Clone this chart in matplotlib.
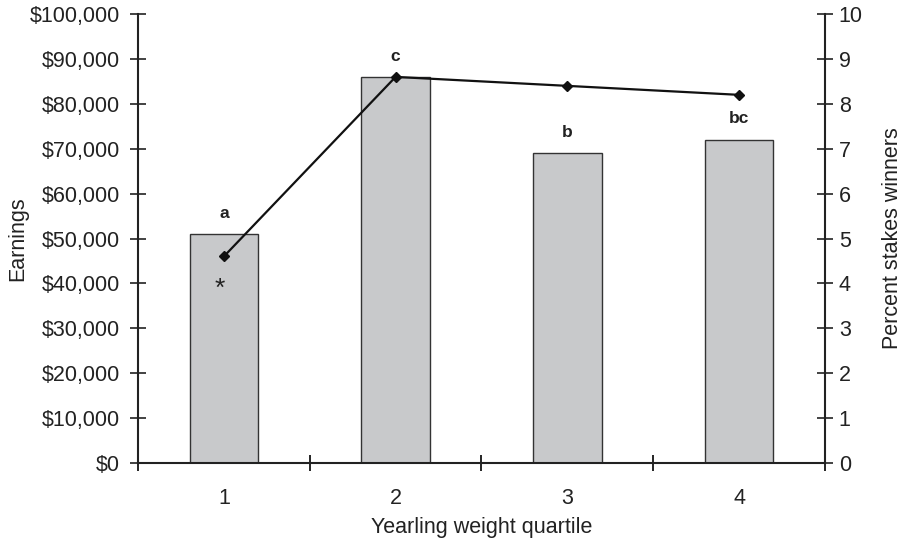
import matplotlib
matplotlib.use("Agg")
import matplotlib.pyplot as plt
from matplotlib.ticker import FuncFormatter

plt.rcParams['font.family'] = ['Liberation Sans', 'DejaVu Sans']

quartiles = ["1", "2", "3", "4"]
earnings = [51000, 86000, 69000, 72000]
pct_stakes = [4.6, 8.6, 8.4, 8.2]
sig_letters = ["a", "c", "b", "bc"]

FS = 15.5
fig = plt.figure(figsize=(9.03, 5.4), dpi=100)
ax = fig.add_axes([0.1528, 0.1426, 0.9136 - 0.1528, 0.974 - 0.1426])
x = list(range(len(quartiles)))
ax.bar(x, earnings, width=0.40, color="#c8c9cb", edgecolor="#333333", linewidth=1.0, zorder=2)
ax.set_xlim(-0.5, 3.5)
ax.set_ylim(0, 100000)
ax.set_yticks(range(0, 100001, 10000))
ax.yaxis.set_major_formatter(FuncFormatter(lambda v, p: "${:,.0f}".format(v)))
ax.set_xticks(x)
ax.set_xticklabels(quartiles)
ax.set_xticks([-0.5, 0.5, 1.5, 2.5, 3.5], minor=True)
ax.tick_params(axis='x', which='major', length=0, labelsize=FS, pad=18, colors='#222222')
ax.tick_params(axis='x', which='minor', direction='inout', length=12, width=1.2)
ax.tick_params(axis='y', direction='inout', length=12, width=1.2, labelsize=FS, pad=7, colors='#222222')
for s in ['top', 'right']:
    ax.spines[s].set_visible(False)
for s in ['left', 'bottom']:
    ax.spines[s].set_linewidth(1.5)
    ax.spines[s].set_color('#222222')
ax.set_xlabel("Yearling weight quartile", fontsize=FS, labelpad=6, color='#222222')
ax.set_ylabel("Earnings", fontsize=FS, labelpad=1, color='#222222')

for xi, v, lab in zip(x, earnings, sig_letters):
    ax.annotate(lab, (xi, v), xytext=(0, 15), textcoords='offset points',
                ha='center', va='center', fontsize=12.5, fontweight='bold', color='#222222')

ax2 = ax.twinx()
ax2.plot(x, pct_stakes, color='#111111', linewidth=1.6, marker='D', markersize=5, zorder=3)
ax2.set_ylim(0, 10)
ax2.set_yticks(range(0, 11))
ax2.tick_params(axis='y', direction='inout', length=12, width=1.2, labelsize=FS, pad=4, colors='#222222')
for s in ['top', 'left', 'bottom']:
    ax2.spines[s].set_visible(False)
ax2.spines['right'].set_linewidth(1.5)
ax2.spines['right'].set_color('#222222')
ax2.set_ylabel("Percent stakes winners", fontsize=FS, labelpad=14, color='#222222')

ax2.annotate("*", (x[0], pct_stakes[0]), xytext=(-3, -23), textcoords='offset points',
             ha='center', va='center', fontsize=19, color='#222222')

fig.savefig("out.png", dpi=100)
